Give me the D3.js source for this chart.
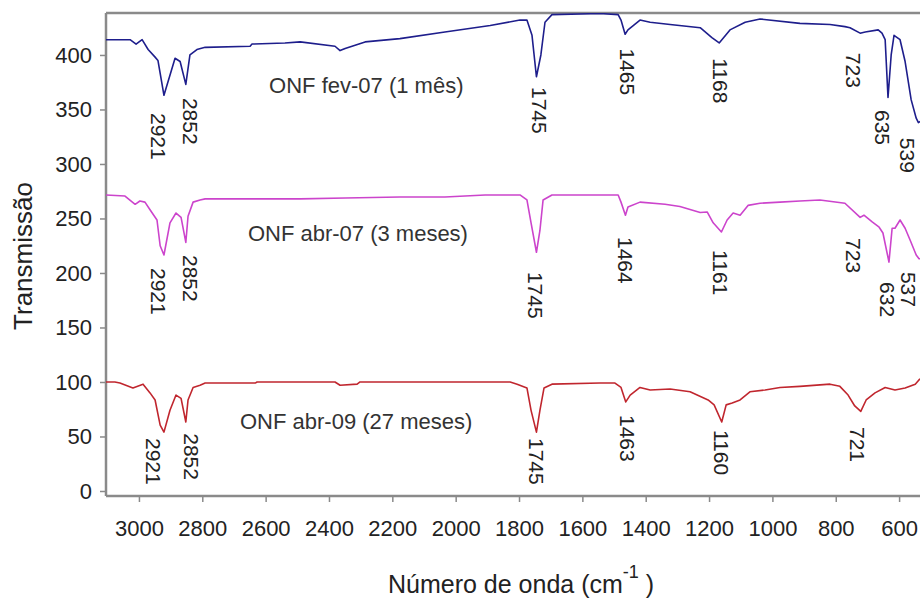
<!DOCTYPE html>
<html>
<head>
<meta charset="utf-8">
<script src="https://cdn.jsdelivr.net/npm/d3@7"></script>
<style>
  html, body { margin: 0; padding: 0; background: #fff; }
  svg { display: block; font-family: "Liberation Sans", Arial, sans-serif; }
</style>
</head>
<body>
<svg id="chart" width="920" height="598"></svg>
<script>
// FTIR spectra: wavenumber (cm-1) and transmission for each sample
const wnFev07 = [3104, 3028, 3009, 2990, 2971, 2949, 2940, 2921, 2886, 2870, 2852, 2839, 2817, 2791, 2649, 2643, 2539, 2491, 2381, 2365, 2349, 2286, 2176, 2034, 1891, 1797, 1775, 1759, 1745, 1731, 1718, 1696, 1544, 1487, 1478, 1465, 1456, 1418, 1386, 1323, 1228, 1191, 1168, 1134, 1086, 1039, 913, 818, 771, 755, 723, 707, 666, 654, 644, 635, 625, 616, 597, 581, 562, 546, 539, 534];
const tFev07 = [414, 414, 410, 414, 405, 398, 395, 363, 397, 394, 373, 400, 405, 407, 408, 410, 411, 412, 408, 404, 406, 412, 415, 421, 427, 432, 432, 418, 380, 400, 430, 437, 438, 437, 432, 419, 423, 432, 430, 428, 425, 416, 411, 423, 430, 433, 429, 428, 426, 425, 420, 421, 423, 420, 414, 361, 400, 418, 414, 394, 359, 342, 338, 339];

const wnAbr07 = [3104, 3044, 3012, 2997, 2981, 2965, 2943, 2933, 2921, 2902, 2883, 2867, 2852, 2845, 2829, 2807, 2791, 2491, 2349, 2176, 2034, 1907, 1797, 1775, 1762, 1745, 1734, 1724, 1696, 1544, 1487, 1478, 1464, 1456, 1418, 1339, 1292, 1228, 1206, 1187, 1161, 1143, 1124, 1102, 1077, 1039, 976, 913, 850, 771, 723, 711, 685, 663, 651, 632, 622, 613, 597, 581, 565, 546, 537, 534];
const tAbr07 = [271.6, 270.6, 263, 266, 265, 258, 248.6, 225, 216.5, 246, 255, 251, 228, 252, 265, 267, 268, 268, 268.8, 269.7, 269.7, 271.6, 271.6, 267, 246, 219, 239, 267, 271.6, 271.6, 271.6, 265, 253, 260.5, 265, 263, 261, 255.5, 256, 246, 237.6, 248.6, 255, 253, 262, 264, 265, 266, 267, 264, 251, 253, 246.8, 242, 236.7, 210, 241, 241, 248.6, 241, 230, 216.5, 213, 213];

const wnAbr09 = [3104, 3076, 3060, 3019, 2987, 2965, 2949, 2933, 2921, 2902, 2883, 2867, 2852, 2845, 2829, 2807, 2791, 2633, 2627, 2381, 2365, 2311, 2302, 1828, 1806, 1775, 1762, 1745, 1734, 1721, 1696, 1544, 1497, 1478, 1463, 1449, 1418, 1386, 1323, 1260, 1203, 1184, 1160, 1146, 1127, 1102, 1071, 1023, 976, 913, 818, 787, 761, 740, 721, 704, 676, 644, 613, 581, 549, 534];
const tAbr09 = [100, 100, 99, 94.5, 98, 90, 83.5, 60.5, 54, 74, 88, 85, 63.3, 83.5, 95, 97, 99, 99, 100, 100, 97, 98, 100, 100, 98, 94.5, 74, 54, 74, 94.5, 98, 99, 99, 95, 81.7, 88, 95, 92.7, 93.6, 91, 83.5, 79, 63.3, 79, 80.7, 83.5, 91, 92.7, 95, 96, 98, 96, 88, 78, 73, 83.5, 90, 95, 92.7, 94.5, 98, 103];

// Labelled absorption bands (cm-1) for each sample
const peaksFev07 = [2921, 2852, 1745, 1465, 1168, 723, 635, 539];
const peaksAbr07 = [2921, 2852, 1745, 1464, 1161, 723, 632, 537];
const peaksAbr09 = [2921, 2852, 1745, 1463, 1160, 721];

const sampleNames = ["ONF fev-07 (1 mês)", "ONF abr-07 (3 meses)", "ONF abr-09 (27 meses)"];

const xTicks = [3000, 2800, 2600, 2400, 2200, 2000, 1800, 1600, 1400, 1200, 1000, 800, 600];
const yTicks = [0, 50, 100, 150, 200, 250, 300, 350, 400];

// ---- layout ----
const plot = { left: 106, right: 920, top: 13, bottom: 496 };
const x = d3.scaleLinear().domain([3104, 534]).range([plot.left, plot.right]);
const y = d3.scaleLinear().domain([-4.6, 438.5]).range([plot.bottom, plot.top]);

// band label placement: [horizontal nudge px, transmission level of label start]
const bandLabelLayout = [
  [[-6, 346.8], [5, 360.6], [3, 370.6], [2, 406], [1, 397], [-7, 402], [-6, 349.5], [-11, 324]],
  [[-6, 204.6], [5, 216.5], [-1, 201], [0, 233], [-1, 221], [-7, 232], [-2, 191.7], [-11, 201]],
  [[-11, 48.6], [6, 53], [0, 48.6], [1.5, 69.7], [0, 56], [-3, 58.7]]
];
// sample name anchors in data units: [wavenumber, transmission at baseline]
const nameAnchors = [[2589, 365], [2656, 229], [2681, 57]];

const series = [
  { wn: wnFev07, t: tFev07, peaks: peaksFev07, color: "#1e1e8c" },
  { wn: wnAbr07, t: tAbr07, peaks: peaksAbr07, color: "#cc44cc" },
  { wn: wnAbr09, t: tAbr09, peaks: peaksAbr09, color: "#c0262e" }
];

const svg = d3.select("#chart");
svg.append("rect").attr("width", 920).attr("height", 598).attr("fill", "#fff");

svg.append("defs").append("clipPath").attr("id", "plotclip")
  .append("rect")
  .attr("x", plot.left).attr("y", plot.top)
  .attr("width", plot.right - plot.left).attr("height", plot.bottom - plot.top);

// top frame line
svg.append("line")
  .attr("x1", plot.left).attr("x2", plot.right)
  .attr("y1", plot.top).attr("y2", plot.top)
  .attr("stroke", "#8a8a8a").attr("stroke-width", 2.5);

// axes
const axisColor = "#8a8a8a";
const gx = svg.append("g")
  .attr("transform", `translate(0,${plot.bottom})`)
  .call(d3.axisBottom(x).tickValues(xTicks).tickFormat(d3.format("d"))
    .tickSize(6).tickSizeOuter(0).tickPadding(18));
const gy = svg.append("g")
  .attr("transform", `translate(${plot.left},0)`)
  .call(d3.axisLeft(y).tickValues(yTicks).tickFormat(d3.format("d"))
    .tickSize(6).tickSizeOuter(0).tickPadding(8));

[gx, gy].forEach(g => {
  g.select(".domain").attr("stroke", axisColor).attr("stroke-width", 2.5);
  g.selectAll(".tick line").attr("stroke", axisColor).attr("stroke-width", 1.5);
  g.selectAll(".tick text")
    .attr("fill", "#222")
    .style("font-size", "22px")
    .style("font-family", "'Liberation Sans', Arial, sans-serif");
});
gx.select(".domain").attr("d", `M${plot.left},0H${plot.right}`);
gy.select(".domain").attr("d", `M0,${plot.top}V${plot.bottom}`);

// spectra
const lineGen = d3.line().x(d => x(d[0])).y(d => y(d[1]));
const plotG = svg.append("g").attr("clip-path", "url(#plotclip)");
series.forEach(s => {
  const pts = s.wn.map((w, i) => [w, s.t[i]]);
  plotG.append("path")
    .datum(pts)
    .attr("d", lineGen)
    .attr("fill", "none")
    .attr("stroke", s.color)
    .attr("stroke-width", 1.6)
    .attr("stroke-linejoin", "round");
});

// band labels, written downward
const labelG = svg.append("g");
series.forEach((s, si) => {
  s.peaks.forEach((p, pi) => {
    const [dx, tTop] = bandLabelLayout[si][pi];
    labelG.append("text")
      .attr("transform", `translate(${x(p) + dx},${y(tTop)}) rotate(90)`)
      .attr("dy", "0.35em")
      .attr("fill", "#222")
      .style("font-size", "21px")
      .text(p);
  });
});

// sample names
sampleNames.forEach((name, i) => {
  const [w, t] = nameAnchors[i];
  svg.append("text")
    .attr("x", x(w)).attr("y", y(t))
    .attr("fill", "#333")
    .style("font-size", "22px")
    .text(name);
});

// axis titles
svg.append("text")
  .attr("transform", "translate(32,256) rotate(-90)")
  .attr("text-anchor", "middle")
  .attr("fill", "#222")
  .style("font-size", "26px")
  .text("Transmissão");

const xt = svg.append("text")
  .attr("x", 388).attr("y", 593)
  .attr("fill", "#222")
  .style("font-size", "25px");
xt.append("tspan").text("Número de onda (cm");
xt.append("tspan").attr("dy", -15).style("font-size", "18px").text("-1");
xt.append("tspan").attr("dy", 15).text(" )");
</script>
</body>
</html>
